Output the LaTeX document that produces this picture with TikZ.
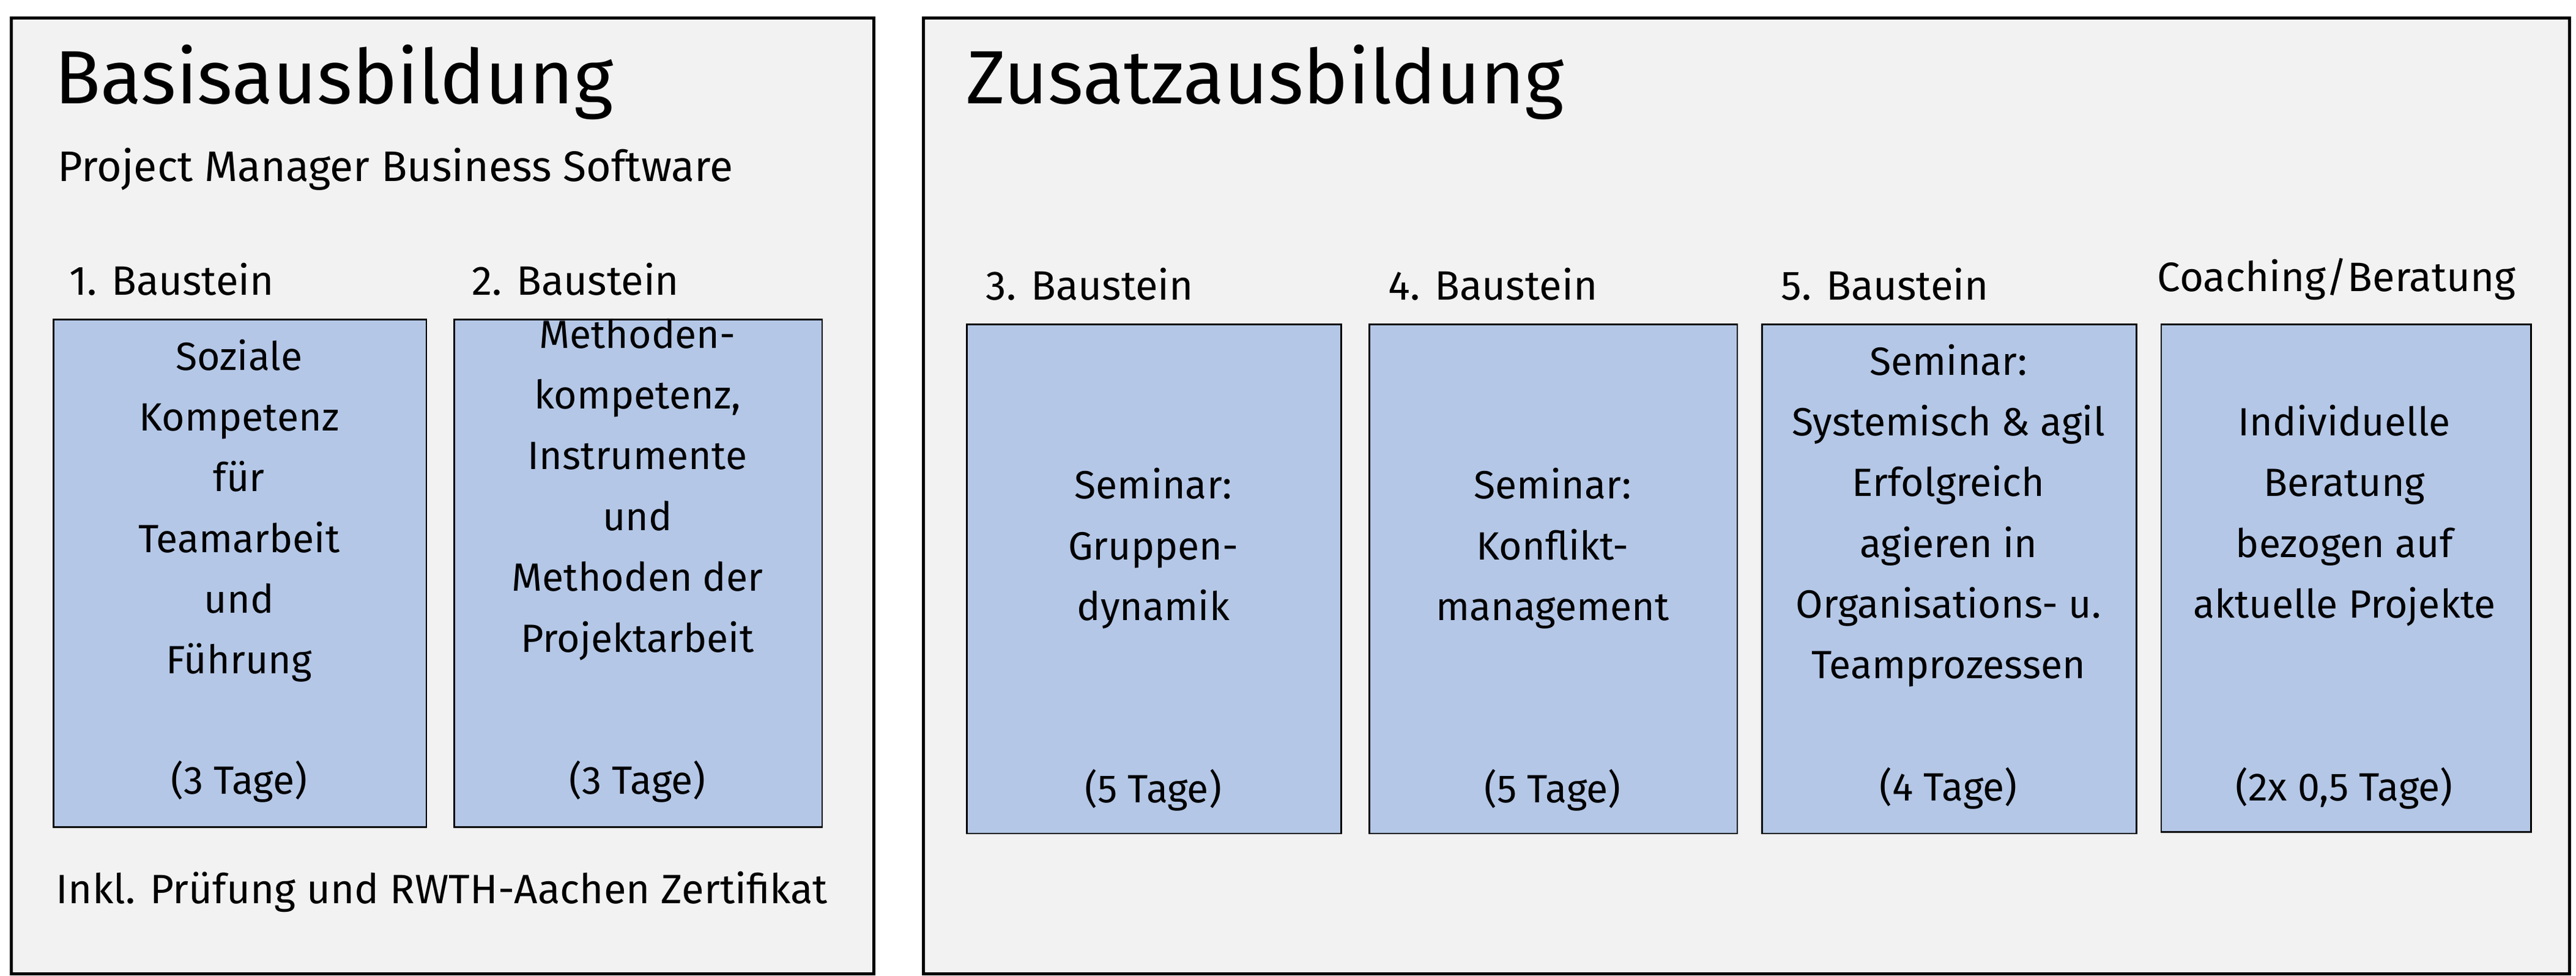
\documentclass[tikz,border=0pt]{standalone}
\usepackage{fontspec}
\setmainfont{Fira Sans}
\begin{document}
\begin{tikzpicture}[x=1pt,y=-1pt,
 panel/.style={draw=black,line width=2pt,fill=panelgray},
 blk/.style={draw=black,line width=1pt,fill=blockblue},
 body/.style={align=center,font=\fontsize{24}{37}\selectfont,inner sep=0pt},
 lab/.style={anchor=west,font=\fontsize{25}{30}\selectfont,inner sep=0pt}]
\definecolor{panelgray}{HTML}{F2F2F2}
\definecolor{blockblue}{HTML}{B4C7E7}
\useasboundingbox (0,0) rectangle (1568,594);
\fill[white] (0,0) rectangle (1568,594);
\node[panel,minimum width=525,minimum height=582,anchor=north west,inner sep=0] (pl) at (6,10) {};
\node[panel,minimum width=1002,minimum height=582,anchor=north west,inner sep=0] (pr) at (561,10) {};
\node[anchor=west,inner sep=0,font=\fontsize{46}{50}\selectfont] (t1) at (33,50) {Basisausbildung};
\node[anchor=west,inner sep=0,font=\fontsize{26}{30}\selectfont] (s1) at (35,103) {Project Manager Business Software};
\node[anchor=west,inner sep=0,font=\fontsize{46}{50}\selectfont] (t2) at (588,50) {Zusatzausbildung};
\node[lab] (l1) at (42,170) {1. Baustein};
\node[lab] (l2) at (287,170) {2. Baustein};
\node[lab] (l3) at (600,173) {3. Baustein};
\node[lab] (l4) at (845,173) {4. Baustein};
\node[lab] (l5) at (1084,173) {5. Baustein};
\node[lab] (l6) at (1313,170) {Coaching/Beratung};
\node[blk,minimum width=227,minimum height=309,anchor=north west,inner sep=0] (b1) at (32,194) {};
\node[blk,minimum width=224,minimum height=309,anchor=north west,inner sep=0] (b2) at (276,194) {};
\node[blk,minimum width=228,minimum height=310,anchor=north west,inner sep=0] (b3) at (588,197) {};
\node[blk,minimum width=224,minimum height=310,anchor=north west,inner sep=0] (b4) at (833,197) {};
\node[blk,minimum width=228,minimum height=310,anchor=north west,inner sep=0] (b5) at (1072,197) {};
\node[blk,minimum width=225,minimum height=309,anchor=north west,inner sep=0] (b6) at (1315,197) {};
\node[body] (x1) at (145.5,311) {Soziale\\Kompetenz\\für\\Teamarbeit\\und\\Führung};
\node[body] (d1) at (145.5,476) {(3 Tage)};
\node[body] (x2) at (388,298) {Methoden-\\kompetenz,\\Instrumente\\und\\Methoden der\\Projektarbeit};
\node[body] (d2) at (388,476) {(3 Tage)};
\node[body] (x3) at (702,334) {Seminar:\\Gruppen-\\dynamik};
\node[body] (d3) at (702,481) {(5 Tage)};
\node[body] (x4) at (945,334) {Seminar:\\Konflikt-\\management};
\node[body] (d4) at (945,481) {(5 Tage)};
\node[body] (x5) at (1186,314) {Seminar:\\Systemisch \& agil\\Erfolgreich\\agieren in\\Organisations- u.\\Teamprozessen};
\node[body] (d5) at (1186,480) {(4 Tage)};
\node[body] (x6) at (1427,314) {Individuelle\\Beratung\\bezogen auf\\aktuelle Projekte};
\node[body] (d6) at (1427,480) {(2x 0,5 Tage)};
\node[inner sep=0,font=\fontsize{25}{30}\selectfont] (f1) at (269,543) {Inkl. Prüfung und RWTH-Aachen Zertifikat};
\end{tikzpicture}
\end{document}
